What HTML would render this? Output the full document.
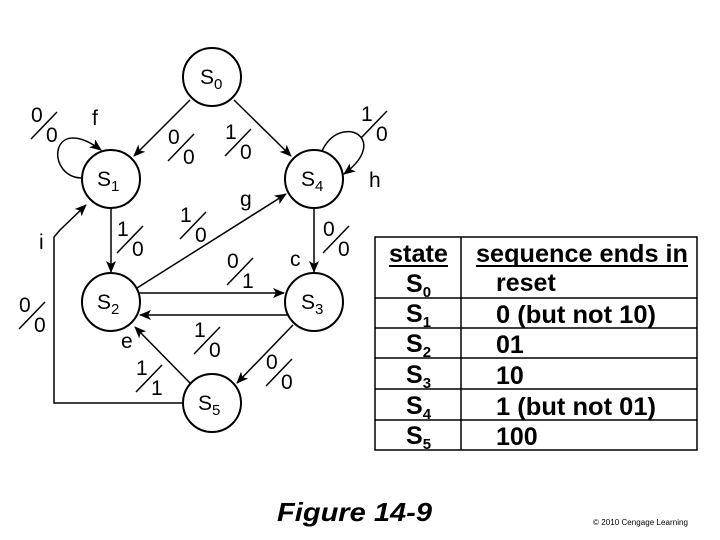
<!DOCTYPE html>
<html><head><meta charset="utf-8"><style>
html,body{margin:0;padding:0;background:#fff;}
svg{display:block;}
text{font-family:"Liberation Sans",sans-serif;fill:#000;}
.n{font-size:21px;}
.b{font-weight:bold;font-size:25px;}
</style></head><body>
<svg width="720" height="540" viewBox="0 0 720 540" xmlns="http://www.w3.org/2000/svg">
<defs>
<marker id="a" markerWidth="12" markerHeight="10" refX="11" refY="5" orient="auto" markerUnits="userSpaceOnUse">
<path d="M0,0 L12,5 L0,10 L3,5 z" fill="#000"/>
</marker>
</defs>
<g stroke="#000" stroke-width="2" fill="none">
<circle cx="212" cy="77" r="29"/>
<circle cx="111" cy="179" r="29"/>
<circle cx="314" cy="179" r="29"/>
<circle cx="111" cy="302" r="29"/>
<circle cx="314" cy="302" r="29"/>
<circle cx="212" cy="403" r="29"/>
</g>
<g stroke="#000" stroke-width="1.5" fill="none" marker-end="url(#a)">
<line x1="190" y1="100" x2="134" y2="156"/>
<line x1="234" y1="100" x2="291" y2="156"/>
<line x1="111" y1="208" x2="111" y2="272"/>
<line x1="314" y1="208" x2="314" y2="272"/>
<line x1="137" y1="288" x2="286" y2="194"/>
<line x1="139" y1="293" x2="284" y2="293"/>
<line x1="288" y1="315" x2="140" y2="315"/>
<line x1="293" y1="325" x2="237" y2="383"/>
<line x1="190" y1="383" x2="135" y2="327"/>
<path d="M183,403 L54,403 L54,237 L60,230 L86,205"/>
<path d="M81,178 C45,176 50,112 101,150"/>
<path d="M322,151 C340,112 392,138 344,174"/>
</g>
<g class="n">
<text x="200" y="84">S<tspan font-size="15" dy="5">0</tspan></text>
<text x="97" y="186">S<tspan font-size="15" dy="5">1</tspan></text>
<text x="301" y="186">S<tspan font-size="15" dy="5">4</tspan></text>
<text x="97" y="309">S<tspan font-size="15" dy="5">2</tspan></text>
<text x="301" y="309">S<tspan font-size="15" dy="5">3</tspan></text>
<text x="198" y="410">S<tspan font-size="15" dy="5">5</tspan></text>
<text x="92" y="125">f</text>
<text x="369" y="187">h</text>
<text x="240" y="206">g</text>
<text x="290" y="266">c</text>
<text x="121" y="348">e</text>
<text x="39" y="249">i</text>
</g>
<g class="n" stroke-width="1.5">
<g transform="translate(44,122)"><text x="-13" y="0">0</text><text x="2" y="20">0</text><line x1="-13" y1="17" x2="13" y2="-10" stroke="#000"/></g>
<g transform="translate(181,144)"><text x="-13" y="0">0</text><text x="2" y="20">0</text><line x1="-13" y1="17" x2="13" y2="-10" stroke="#000"/></g>
<g transform="translate(238,139)"><text x="-13" y="0">1</text><text x="2" y="20">0</text><line x1="-13" y1="17" x2="13" y2="-10" stroke="#000"/></g>
<g transform="translate(374,121)"><text x="-13" y="0">1</text><text x="2" y="20">0</text><line x1="-13" y1="17" x2="13" y2="-10" stroke="#000"/></g>
<g transform="translate(130,236)"><text x="-13" y="0">1</text><text x="2" y="20">0</text><line x1="-13" y1="17" x2="13" y2="-10" stroke="#000"/></g>
<g transform="translate(193,222)"><text x="-13" y="0">1</text><text x="2" y="20">0</text><line x1="-13" y1="17" x2="13" y2="-10" stroke="#000"/></g>
<g transform="translate(336,236)"><text x="-13" y="0">0</text><text x="2" y="20">0</text><line x1="-13" y1="17" x2="13" y2="-10" stroke="#000"/></g>
<g transform="translate(240,268)"><text x="-13" y="0">0</text><text x="2" y="20">1</text><line x1="-13" y1="17" x2="13" y2="-10" stroke="#000"/></g>
<g transform="translate(207,337)"><text x="-13" y="0">1</text><text x="2" y="20">0</text><line x1="-13" y1="17" x2="13" y2="-10" stroke="#000"/></g>
<g transform="translate(149,375)"><text x="-13" y="0">1</text><text x="2" y="20">1</text><line x1="-13" y1="17" x2="13" y2="-10" stroke="#000"/></g>
<g transform="translate(279,369)"><text x="-13" y="0">0</text><text x="2" y="20">0</text><line x1="-13" y1="17" x2="13" y2="-10" stroke="#000"/></g>
<g transform="translate(32,312)"><text x="-13" y="0">0</text><text x="2" y="20">0</text><line x1="-13" y1="17" x2="13" y2="-10" stroke="#000"/></g>
</g>
<g stroke="#000" stroke-width="1.5" fill="none">
<rect x="375" y="237" width="322" height="213"/>
<line x1="461" y1="237" x2="461" y2="450"/>
<line x1="375" y1="298" x2="697" y2="298"/>
<line x1="375" y1="328" x2="697" y2="328"/>
<line x1="375" y1="358" x2="697" y2="358"/>
<line x1="375" y1="389" x2="697" y2="389"/>
<line x1="375" y1="420" x2="697" y2="420"/>
<line x1="389" y1="266" x2="448" y2="266" stroke-width="2"/>
<line x1="476" y1="266" x2="688" y2="266" stroke-width="2"/>
</g>
<g class="b">
<text x="389" y="262" textLength="59" lengthAdjust="spacingAndGlyphs">state</text>
<text x="476" y="262" textLength="212" lengthAdjust="spacingAndGlyphs">sequence ends in</text>
<text x="406" y="292">S<tspan font-size="15" dy="5">0</tspan></text>
<text x="406" y="322">S<tspan font-size="15" dy="5">1</tspan></text>
<text x="406" y="352">S<tspan font-size="15" dy="5">2</tspan></text>
<text x="406" y="383">S<tspan font-size="15" dy="5">3</tspan></text>
<text x="406" y="414">S<tspan font-size="15" dy="5">4</tspan></text>
<text x="406" y="444">S<tspan font-size="15" dy="5">5</tspan></text>
<text x="496" y="291">reset</text>
<text x="496" y="323" textLength="160" lengthAdjust="spacingAndGlyphs">0 (but not 10)</text>
<text x="496" y="353">01</text>
<text x="496" y="384">10</text>
<text x="496" y="415" textLength="160" lengthAdjust="spacingAndGlyphs">1 (but not 01)</text>
<text x="496" y="445">100</text>
</g>
<text x="277" y="521" font-size="26" font-weight="bold" font-style="italic" textLength="155" lengthAdjust="spacingAndGlyphs">Figure 14-9</text>
<text x="593" y="525" font-size="8" textLength="95">© 2010 Cengage Learning</text>
</svg>
</body></html>
